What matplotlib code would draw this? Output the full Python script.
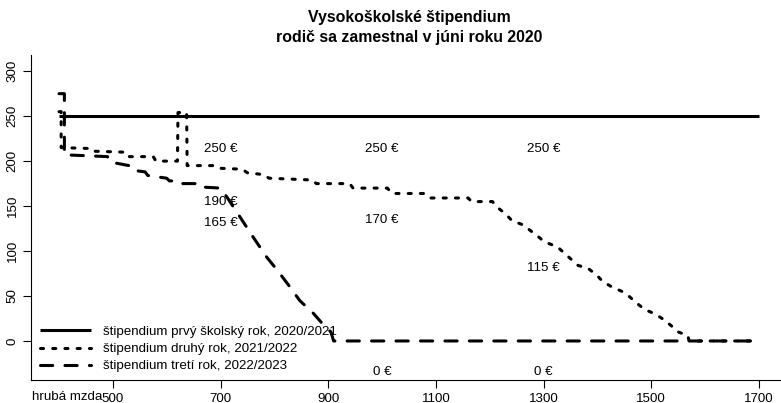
import matplotlib
matplotlib.use("Agg")
import matplotlib.pyplot as plt

plt.rcParams['font.family'] = ['Liberation Sans', 'DejaVu Sans']

# hruba mzda (EUR) a vyska stipendia (EUR)
x_prvy = [400, 1700]
y_prvy = [250, 250]

x_druhy = [400, 404, 404, 460, 465, 520, 525, 575, 580, 620, 621, 637, 638, 690,
           700, 740, 750, 780, 790, 870, 878, 940, 946, 1010, 1018, 1080, 1090,
           1160, 1166, 1205, 1213, 1228, 1241, 1262, 1275, 1290, 1302, 1325,
           1336, 1349, 1364, 1382, 1399, 1410, 1427, 1446, 1460, 1473, 1488,
           1507, 1520, 1535, 1550, 1568, 1570, 1700]
y_druhy = [255, 255, 215, 214, 211, 210, 205, 205, 200, 200, 254, 254, 195, 195,
           192, 191, 187, 185, 181, 179, 175, 175, 170, 170, 164, 164, 159,
           159, 155, 155, 149, 142, 134, 129, 123, 116, 110, 105,
           99, 92, 84, 81, 73, 66, 60, 55, 49, 42, 35,
           30, 25, 18, 10, 6, 0, 0]

x_treti = [400, 410, 410, 490, 495, 530, 535, 560, 565, 600, 605, 625, 630, 665,
           670, 700, 713, 736, 760, 786, 805, 829, 847, 872, 894, 905, 910, 1700]
y_treti = [275, 275, 207, 205, 199, 195, 190, 188, 184, 181, 178, 178, 175, 175,
           171, 170, 159, 138, 116, 93, 79, 60, 45, 31, 16, 10, 0, 0]

legend_labels = ['štipendium prvý školský rok, 2020/2021',
                 'štipendium druhý rok, 2021/2022',
                 'štipendium tretí rok, 2022/2023']

# popisky v grafe
popis_x = [700, 1000, 1300, 700, 700, 1000, 1300, 1000, 1300]
popis_y = [214, 214, 214, 155, 131, 135, 81, -34, -34]
popis_txt = ['250 €', '250 €', '250 €', '190 €', '165 €', '170 €', '115 €', '0 €', '0 €']

x_ticks = [500, 700, 900, 1100, 1300, 1500, 1700]
y_ticks = [0, 50, 100, 150, 200, 250, 300]

fs = 9.6

fig = plt.figure(figsize=(7.81, 4.03), dpi=100)
ax = fig.add_axes([31 / 781, 23 / 403, 756 / 781, 325 / 403])

lw = 2.2
ax.plot(x_prvy, y_prvy, color='black', lw=lw, solid_capstyle='butt',
        label=legend_labels[0])
ax.plot(x_druhy, y_druhy, color='black', lw=lw, dashes=(1, 3),
        dash_capstyle='round', label=legend_labels[1])
ax.plot(x_treti, y_treti, color='black', lw=lw, dashes=(4, 4),
        dash_capstyle='round', label=legend_labels[2])

for px, py, t in zip(popis_x, popis_y, popis_txt):
    ax.text(px, py, t, ha='center', va='center', fontsize=fs)

ax.set_xlim(348, 1752)
ax.set_ylim(-43.4, 318)

ax.set_xticks(x_ticks)
ax.set_yticks(y_ticks)
ax.tick_params(axis='both', length=6, width=0.8, labelsize=fs, pad=3)
for lab in ax.get_yticklabels():
    lab.set_rotation(90)
    lab.set_va('center')

ax.text(415, -0.052, 'hrubá mzda', transform=ax.get_xaxis_transform(),
        ha='center', va='center', fontsize=fs)

for s in ['top', 'right']:
    ax.spines[s].set_visible(False)
for s in ['left', 'bottom']:
    ax.spines[s].set_linewidth(0.8)

ax.legend(loc='upper left', bbox_to_anchor=(0.012, 0.167), frameon=False,
          fontsize=fs, handlelength=3.8, handletextpad=0.9, labelspacing=0.36,
          borderpad=0, borderaxespad=0)

fig.text(409 / 781, 1 - 27.5 / 403, 'Vysokoškolské štipendium\nrodič sa zamestnal v júni roku 2020',
         ha='center', va='center', fontsize=11.4, fontweight='bold', linespacing=1.4)

fig.savefig('out.png', dpi=100)
